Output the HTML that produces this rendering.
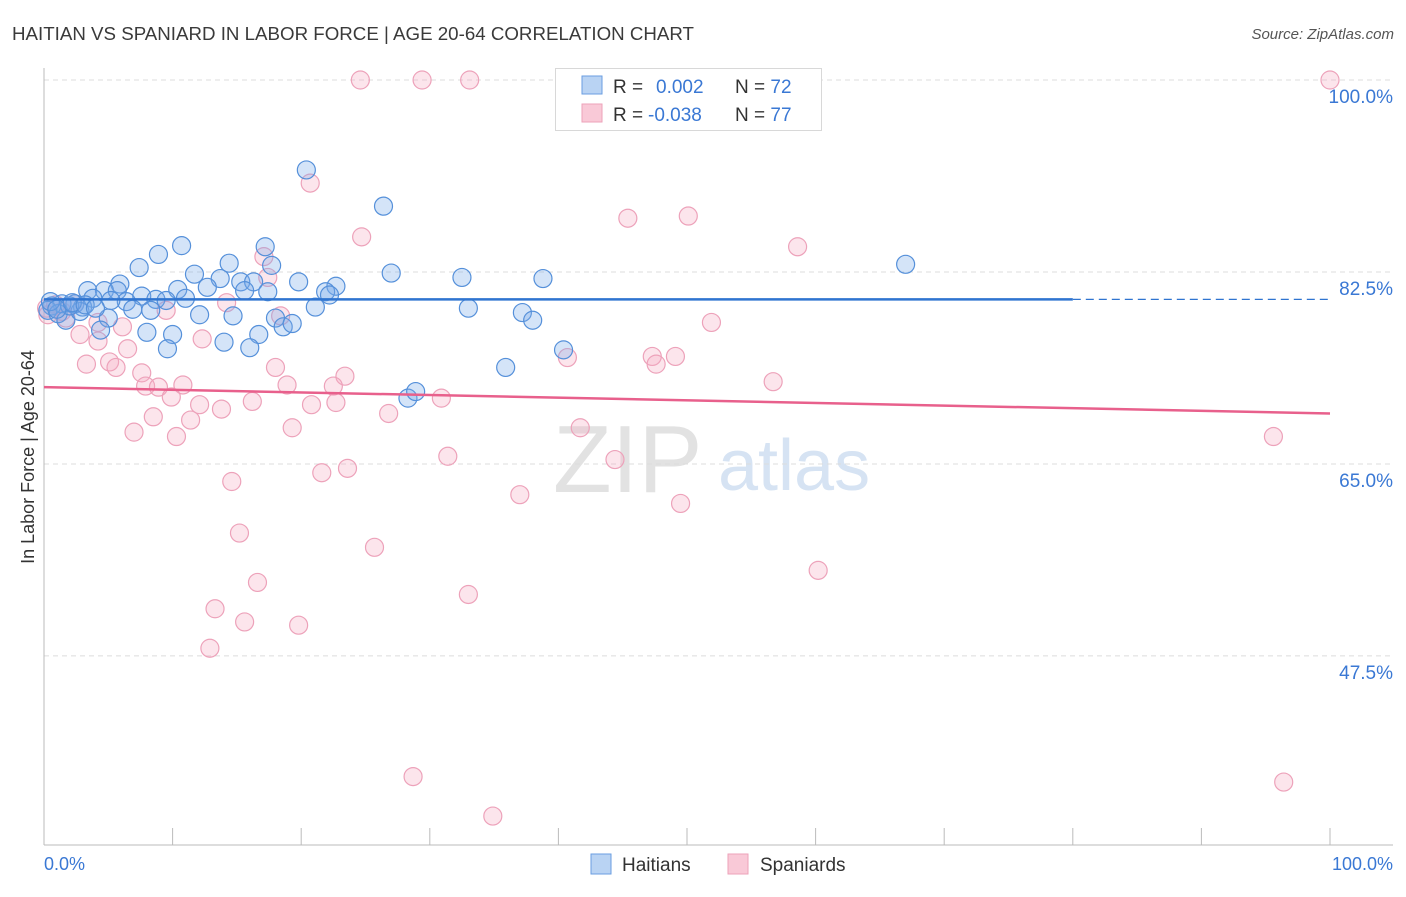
<!DOCTYPE html>
<html><head><meta charset="utf-8"><style>
body{margin:0;background:#fff;font-family:"Liberation Sans",sans-serif;}
svg text{font-family:"Liberation Sans",sans-serif;}
</style></head><body>
<svg id="chart" width="1406" height="892" viewBox="0 0 1406 892">
<text x="12" y="40" font-size="18" fill="#3a3a3a" textLength="682" lengthAdjust="spacingAndGlyphs">HAITIAN VS SPANIARD IN LABOR FORCE | AGE 20-64 CORRELATION CHART</text>
<text x="1394" y="39" font-size="15" fill="#555" font-style="italic" text-anchor="end">Source: ZipAtlas.com</text>
<g>
<text x="553" y="492" font-size="96" fill="#e2e2e2" font-family="Liberation Serif">ZIP</text>
<text x="718" y="490" font-size="72" fill="#d6e3f3">atlas</text>
</g>
<g id="grid"></g>
<g id="axes"></g>
<g id="marks"></g>
<text transform="translate(34,457) rotate(-90)" font-size="18" fill="#333" text-anchor="middle">In Labor Force | Age 20-64</text>
<text x="44" y="870" font-size="18" fill="#3a78d4">0.0%</text>
<text x="1393" y="870" font-size="18" fill="#3a78d4" text-anchor="end">100.0%</text>
<g>
<rect x="555.5" y="68.5" width="266" height="62" fill="#fff" stroke="#d8d8d8"/>
<rect x="582" y="76" width="20" height="18" fill="#b9d3f3" stroke="#6a9ee0"/>
<rect x="582" y="104" width="20" height="18" fill="#f9c9d7" stroke="#eda2ba"/>
<text x="613" y="93" font-size="19" fill="#333">R = <tspan x="656" fill="#3a78d4">0.002</tspan><tspan x="735">N = </tspan><tspan fill="#3a78d4">72</tspan></text>
<text x="613" y="121" font-size="19" fill="#333">R = <tspan x="648" fill="#3a78d4">-0.038</tspan><tspan x="735">N = </tspan><tspan fill="#3a78d4">77</tspan></text>
</g>
<g>
<rect x="591" y="854" width="20" height="20" fill="#b9d3f3" stroke="#6a9ee0"/>
<text x="622" y="871" font-size="19" fill="#333">Haitians</text>
<rect x="728" y="854" width="20" height="20" fill="#f9c9d7" stroke="#eda2ba"/>
<text x="760" y="871" font-size="19" fill="#333">Spaniards</text>
</g>
</svg>
<script>
const yTicks=[100,82.5,65,47.5];
const yTickLabels=["100.0%","82.5%","65.0%","47.5%"];
const xTickVals=[0,10,20,30,40,50,60,70,80,90,100];
const haitianX=[20.4,26.4,10.7,17.2,8.9,14.4,17.7,7.4,27.0,32.5,38.8,67.0,11.7,13.7,5.9,10.4,12.7,15.3,16.3,19.8,22.7,21.9,22.2,15.6,17.4,3.4,4.7,5.7,3.8,7.6,8.7,9.5,11.0,6.4,5.2,2.4,3.0,1.4,0.6,0.3,1.1,1.7,8.3,6.9,12.1,14.7,18.0,21.1,33.0,37.2,38.0,5.0,4.4,8.0,10.0,14.0,16.7,18.6,19.3,9.6,16.0,40.4,35.9,28.3,28.9,2.8,2.0,0.5,1.0,2.2,3.2,4.0];
const haitianY=[91.8,88.5,84.9,84.8,84.1,83.3,83.1,82.9,82.4,82.0,81.9,83.2,82.3,81.9,81.4,80.9,81.1,81.6,81.6,81.6,81.2,80.7,80.4,80.8,80.7,80.8,80.8,80.8,80.1,80.3,80.0,79.9,80.1,79.8,79.9,79.6,79.3,79.6,79.4,79.0,78.7,78.1,79.0,79.1,78.6,78.5,78.3,79.3,79.2,78.8,78.1,78.3,77.2,77.0,76.8,76.1,76.8,77.5,77.8,75.5,75.6,75.4,73.8,71.0,71.6,78.9,79.4,79.8,79.1,79.7,79.5,79.2];
const spaniardX=[24.6,29.4,33.1,100,20.7,24.7,45.4,50.1,58.6,17.1,17.4,14.2,9.5,18.4,4.2,6.1,51.9,2.8,4.2,12.3,6.5,47.3,49.1,47.6,40.7,5.1,3.3,5.6,18.0,7.6,23.4,56.7,7.9,8.9,10.8,18.9,22.5,9.9,22.7,30.9,12.1,16.2,13.8,20.8,26.8,8.5,11.4,7.0,10.3,19.3,41.7,95.6,31.4,44.4,23.6,21.6,14.6,37.0,49.5,15.2,25.7,60.2,16.6,33.0,13.3,15.6,19.8,12.9,28.7,96.4,34.9,0.3,0.9,1.4,1.7,0.2,2.4];
const spaniardY=[100,100,100,100,90.6,85.7,87.4,87.6,84.8,83.9,82.0,79.7,79.0,78.5,77.9,77.5,77.9,76.8,76.2,76.4,75.5,74.8,74.8,74.1,74.7,74.3,74.1,73.8,73.8,73.3,73.0,72.5,72.1,72.0,72.2,72.2,72.1,71.1,70.6,71.0,70.4,70.7,70.0,70.4,69.6,69.3,69.0,67.9,67.5,68.3,68.3,67.5,65.7,65.4,64.6,64.2,63.4,62.2,61.4,58.7,57.4,55.3,54.2,53.1,51.8,50.6,50.3,48.2,36.5,36.0,32.9,78.6,79.5,78.9,78.3,79.2,79.6];
const haitianTrend=[80.0,80.0];
const spaniardTrend=[72.0,69.6];
const NS="http://www.w3.org/2000/svg";
const xs=v=>44+v*12.86;
const ys=v=>80+(100-v)*10.97;
function mk(tag,attrs,parent){const e=document.createElementNS(NS,tag);for(const k in attrs)e.setAttribute(k,attrs[k]);parent.appendChild(e);return e;}
const grid=document.getElementById('grid'),axes=document.getElementById('axes'),marks=document.getElementById('marks');
yTicks.forEach((t,i)=>{
 const l=mk('line',{x1:44,x2:1393,y1:ys(t),y2:ys(t),stroke:'#dcdcdc','stroke-dasharray':'5,4'},grid);
 
 
 const tx=mk('text',{x:1393,y:ys(t)+23,'font-size':19,fill:'#3a78d4','text-anchor':'end'},grid);
 tx.textContent=yTickLabels[i];
 
 
});
const ya=mk('line',{x1:44,x2:44,y1:68,y2:845,stroke:'#bbb'},axes);


const xa=mk('line',{x1:44,x2:1393,y1:845,y2:845,stroke:'#bbb'},axes);


xTickVals.forEach(v=>{
 const t=mk('line',{x1:xs(v),x2:xs(v),y1:828,y2:845,stroke:'#bbb'},axes);
 
 
});
spaniardX.forEach((x,i)=>{
 const c=mk('circle',{cx:xs(x),cy:ys(spaniardY[i]),r:9,fill:'rgba(244,168,192,0.3)',stroke:'#eda2ba','stroke-width':1.2},marks);
 
 
});
haitianX.forEach((x,i)=>{
 const c=mk('circle',{cx:xs(x),cy:ys(haitianY[i]),r:9,fill:'rgba(120,170,232,0.32)',stroke:'#5590da','stroke-width':1.2},marks);
 
 
});
const hs=haitianTrend[0],he=haitianTrend[1];
const hl=mk('line',{x1:xs(0),x2:xs(80),y1:ys(hs),y2:ys(hs+(he-hs)*0.8),stroke:'#2f74d0','stroke-width':2.5},marks);


const hd=mk('line',{x1:xs(80),x2:xs(100),y1:ys(hs+(he-hs)*0.8),y2:ys(he),stroke:'#2f74d0','stroke-width':1.3,'stroke-dasharray':'8,5'},marks);


const sl=mk('line',{x1:xs(0),x2:xs(100),y1:ys(spaniardTrend[0]),y2:ys(spaniardTrend[1]),stroke:'#e8608c','stroke-width':2.5},marks);


</script>
</body></html>
